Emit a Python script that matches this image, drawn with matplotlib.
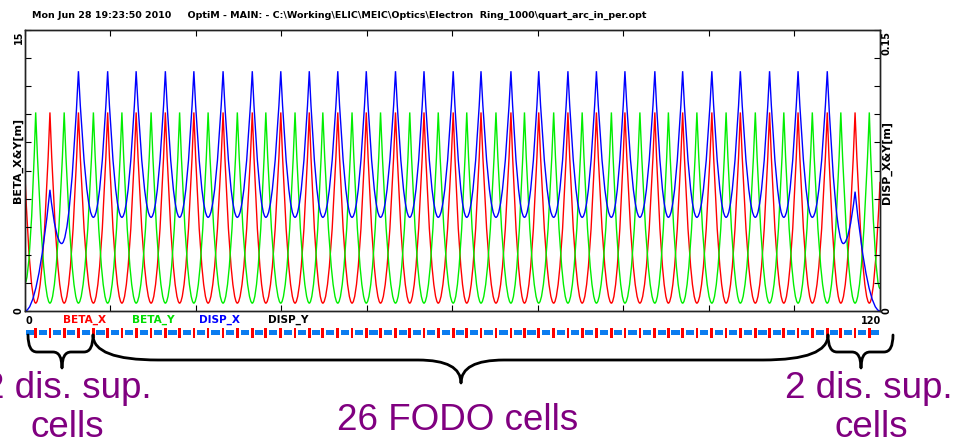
import numpy as np
import matplotlib
matplotlib.use("Agg")
import matplotlib.pyplot as plt
import matplotlib.transforms as mtransforms
from matplotlib.path import Path
from matplotlib.patches import PathPatch

# positions of the BETA_X maxima (F quads) and BETA_Y maxima (D quads) [m]
qf_s = [3.5, 7.5, 11.6, 15.6, 19.7, 23.7, 27.8, 31.9, 35.9, 39.9, 43.9, 47.9, 52.0, 56.0, 60.1,
        64.0, 68.2, 72.1, 76.2, 80.2, 84.2, 88.4, 92.3, 96.4, 100.4, 104.5, 108.5, 112.6, 116.5]
qd_s = [1.5, 5.5, 9.6, 13.6, 17.7, 21.7, 25.7, 29.8, 33.8, 37.9, 41.8, 45.9, 49.9, 54.0, 58.0,
        62.0, 66.1, 70.1, 74.2, 78.2, 82.3, 86.3, 90.3, 94.3, 98.4, 102.5, 106.5, 110.5, 114.5, 118.5]
s_end = 120.0

beta_max = 10.6
beta_min = 0.42
beta_x_ends = [7.2, 6.9]   # at s=0 and s=120
beta_y_ends = [1.5, 1.2]

disp_max = 0.128
disp_min = 0.050
disp_bump = [0.0647, 0.0637]    # at first / last F quad (dispersion suppressors)
disp_dip_s = [5.15, 114.85]
disp_dip = [0.036, 0.036]

header = ("Mon Jun 28 19:23:50 2010     OptiM - MAIN: - C:\\Working\\ELIC\\MEIC\\Optics\\Electron  "
          "Ring_1000\\quart_arc_in_per.opt")
legend_names = ["BETA_X", "BETA_Y", "DISP_X", "DISP_Y"]
legend_colors = ["#ff0000", "#00dd00", "#0000ff", "#000000"]

W, H = 962, 445
purple = "#800080"


def fodo_path(s, v):
    # quadratic segments, flat at the lower end of each segment
    verts = [(s[0], v[0])]
    codes = [Path.MOVETO]
    for i in range(1, len(s)):
        verts += [((s[i - 1] + s[i]) / 2, min(v[i - 1], v[i])), (s[i], v[i])]
        codes += [Path.CURVE3, Path.CURVE3]
    return Path(verts, codes)


def fig_rect(x0, y0, x1, y1):
    return [x0 / W, 1 - y1 / H, (x1 - x0) / W, (y1 - y0) / H]


# knots of the three curves
mid_s = []
for k in range(len(qf_s)):
    mid_s += [qd_s[k], qf_s[k]]
mid_s.append(qd_s[-1])

bx_s = [0.0] + mid_s + [s_end]
bx_v = [beta_x_ends[0]] + [beta_min if i % 2 == 0 else beta_max for i in range(len(mid_s))] + [beta_x_ends[1]]
by_s = bx_s
by_v = [beta_y_ends[0]] + [beta_max if i % 2 == 0 else beta_min for i in range(len(mid_s))] + [beta_y_ends[1]]

dx_s = [0.0, qf_s[0], disp_dip_s[0]]
dx_v = [0.0, disp_bump[0], disp_dip[0]]
for k in range(1, len(qf_s) - 1):
    if k > 1:
        dx_s.append(qd_s[k])
        dx_v.append(disp_min)
    dx_s.append(qf_s[k])
    dx_v.append(disp_max)
dx_s += [disp_dip_s[1], qf_s[-1], s_end]
dx_v += [disp_dip[1], disp_bump[1], 0.0]

fig = plt.figure(figsize=(W / 100, H / 100), dpi=100)
ax = fig.add_axes(fig_rect(25, 30, 880, 311))
ax2 = ax.twinx()

ax.add_patch(PathPatch(fodo_path(bx_s, bx_v), fill=False, edgecolor="#ff0000", lw=1.0))
ax.add_patch(PathPatch(fodo_path(by_s, by_v), fill=False, edgecolor="#00ee00", lw=1.0))
ax2.add_patch(PathPatch(fodo_path(dx_s, dx_v), fill=False, edgecolor="#0000ff", lw=1.0))

ax.set_xlim(0, s_end)
ax.set_ylim(0, 15)
ax2.set_ylim(0, 0.15)
ax.set_xticks(np.arange(0, 121, 12))
ax.set_yticks(np.arange(0, 15.01, 1.5))
ax2.set_yticks(np.arange(0, 0.1501, 0.015))
ax.tick_params(axis="both", direction="in", length=4.5, width=0.8, top=True,
               labelbottom=False, labelleft=False)
ax2.tick_params(axis="y", direction="in", length=4.5, width=0.8, labelright=False)
for a in (ax, ax2):
    for sp in a.spines.values():
        sp.set_linewidth(1.0)
        sp.set_color("#222222")

small = dict(family="DejaVu Sans", fontweight="bold", fontsize=7.0)
ax.annotate("15", xy=(0, 1), xycoords="axes fraction", xytext=(-6, -1), textcoords="offset pixels",
            rotation=90, ha="center", va="top", **small)
ax.annotate("0", xy=(0, 0), xycoords="axes fraction", xytext=(-6, 0), textcoords="offset pixels",
            rotation=90, ha="center", va="center", **small)
ax.annotate("0.15", xy=(1, 1), xycoords="axes fraction", xytext=(7, -1), textcoords="offset pixels",
            rotation=90, ha="center", va="top", **small)
ax.annotate("0", xy=(1, 0), xycoords="axes fraction", xytext=(7, 0), textcoords="offset pixels",
            rotation=90, ha="center", va="center", **small)
ax.annotate("0", xy=(0, 0), xycoords="axes fraction", xytext=(0, -5), textcoords="offset pixels",
            ha="left", va="top", **small)
ax.annotate("120", xy=(1, 0), xycoords="axes fraction", xytext=(1, -5), textcoords="offset pixels",
            ha="right", va="top", **small)

label = dict(family="DejaVu Sans", fontweight="bold", fontsize=8.0)
fig.text(18 / W, 1 - 160 / H, "BETA_X&Y[m]", rotation=90, ha="center", va="center", **label)
fig.text(887 / W, 1 - 162 / H, "DISP_X&Y[m]", rotation=90, ha="center", va="center", **label)
for name, col, xc in zip(legend_names, legend_colors, [85, 153, 220, 288]):
    fig.text(xc / W, 1 - 320 / H, name, color=col, ha="center", va="center",
             family="DejaVu Sans", fontweight="bold", fontsize=7.6)
fig.text(32 / W, 1 - 18 / H, header, ha="left", va="baseline", family="DejaVu Sans",
         fontweight="bold", fontsize=6.8)

# element bar: quads (red) and dipoles (blue)
ax_el = fig.add_axes(fig_rect(25, 325, 880, 340), sharex=ax)
ax_el.set_ylim(0, 15)
ax_el.axis("off")
quad_s = sorted(qf_s + qd_s)
edges = [0.0] + quad_s + [s_end]
dip_s = [(a + b) / 2 for a, b in zip(edges[:-1], edges[1:])]
ax_el.bar(dip_s, 5, width=1.15, bottom=5, color="#0a7cf0", linewidth=0)
ax_el.bar(quad_s, 10, width=0.38, bottom=2.5, color="#ff0000", linewidth=0)
ax_el.set_xlim(0, s_end)

# braces
px = mtransforms.Affine2D().scale(1 / W, -1 / H).translate(0, 1) + fig.transFigure


def brace(x0, x1, xm, ytop, ymid, ytip, r_end, r_tip):
    verts = [(x0, ytop), (x0, ymid), (x0 + r_end, ymid), (xm - r_tip, ymid),
             (xm, ymid), (xm, ytip), (xm, ymid), (xm + r_tip, ymid),
             (x1 - r_end, ymid), (x1, ymid), (x1, ytop)]
    codes = [Path.MOVETO, Path.CURVE3, Path.CURVE3, Path.LINETO,
             Path.CURVE3, Path.CURVE3, Path.CURVE3, Path.CURVE3,
             Path.LINETO, Path.CURVE3, Path.CURVE3]
    fig.add_artist(PathPatch(Path(verts, codes), fill=False, edgecolor="black", lw=2.0,
                             transform=px, capstyle="round", joinstyle="round"))


brace(28, 93, 62, 335, 352, 368, 9, 9)
brace(93, 828, 461, 335, 360, 383, 65, 43)
brace(828, 893, 861, 335, 352, 368, 9, 9)

big = dict(family="Liberation Sans", fontsize=26.5, color=purple, ha="center", va="baseline")
fig.text(68 / W, 1 - 398 / H, "2 dis. sup.", **big)
fig.text(67 / W, 1 - 437 / H, "cells", **big)
fig.text(457.5 / W, 1 - 430 / H, "26 FODO cells", **big)
fig.text(869 / W, 1 - 398 / H, "2 dis. sup.", **big)
fig.text(871 / W, 1 - 437 / H, "cells", **big)

fig.savefig("out.png", dpi=100)
